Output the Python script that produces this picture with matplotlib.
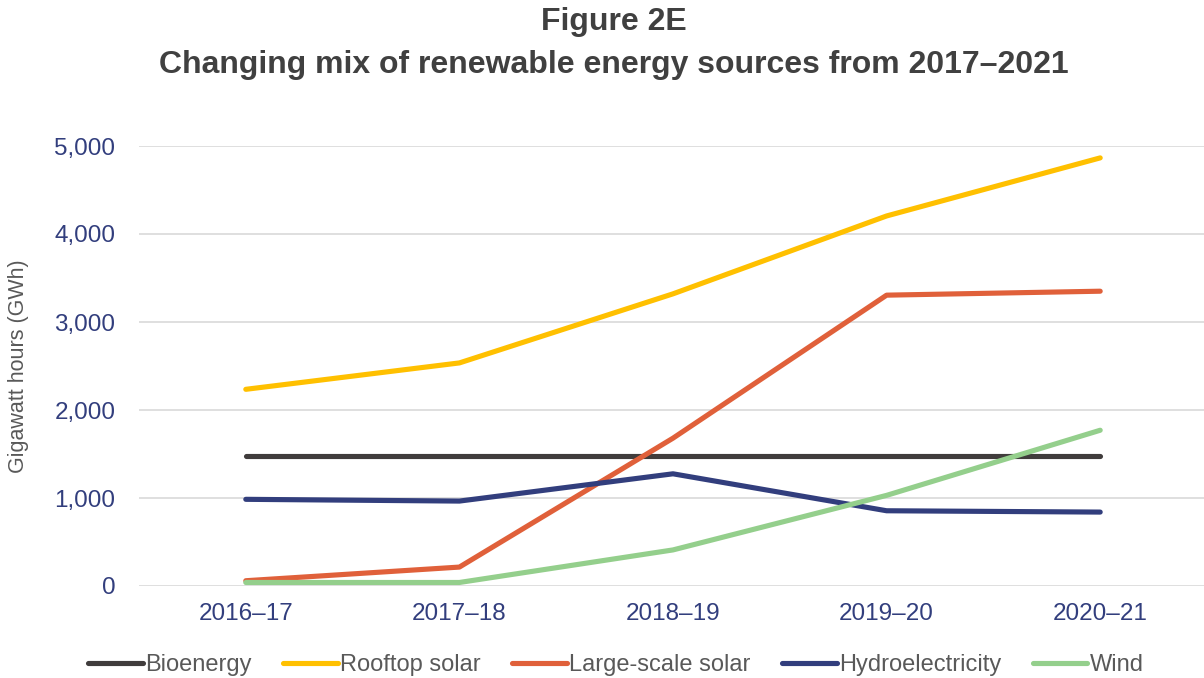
import matplotlib
matplotlib.use("Agg")
import matplotlib.pyplot as plt
from matplotlib.ticker import FuncFormatter

# data
years = ["2016–17", "2017–18", "2018–19", "2019–20", "2020–21"]
bioenergy = [1475, 1475, 1475, 1475, 1475]
rooftop_solar = [2235, 2535, 3320, 4205, 4865]
large_scale_solar = [60, 215, 1680, 3305, 3350]
hydro = [985, 965, 1275, 855, 840]
wind = [40, 40, 410, 1030, 1770]

series = [
    ("Bioenergy", bioenergy, "#403C3C"),
    ("Rooftop solar", rooftop_solar, "#FFC000"),
    ("Large-scale solar", large_scale_solar, "#E0603A"),
    ("Hydroelectricity", hydro, "#323E7D"),
    ("Wind", wind, "#94CF8C"),
]

plt.rcParams["font.family"] = ["Liberation Sans", "DejaVu Sans"]
navy = "#323E7D"

fig = plt.figure(figsize=(12.04, 6.78), dpi=100)
ax = fig.add_axes([139 / 1204, 92 / 678, 1068 / 1204, 440 / 678])

x = list(range(len(years)))
for name, vals, col in series:
    ax.plot(x, vals, color=col, lw=3.7, solid_capstyle="round",
            solid_joinstyle="round", label=name)

ax.set_xlim(-0.5, 4.5)
ax.set_ylim(0, 5000)
ax.set_yticks(range(0, 5001, 1000))
ax.yaxis.set_major_formatter(FuncFormatter(lambda v, p: f"{int(v):,}"))
ax.set_xticks(x)
ax.set_xticklabels(years)
ax.tick_params(axis="both", length=0, labelsize=17.5, labelcolor=navy)
ax.tick_params(axis="y", pad=17)
ax.tick_params(axis="x", pad=12)
ax.grid(axis="y", color="#D9D9D9", lw=1.2)
ax.set_axisbelow(True)
for s in ax.spines.values():
    s.set_visible(False)

ax.set_ylabel("Gigawatt hours (GWh)", fontsize=15.5, color="#595959")
ax.yaxis.set_label_coords(-0.103, 0.5)

fig.text(0.51, 1 - 22 / 678, "Figure 2E", ha="center", va="center",
         fontsize=23, fontweight="bold", color="#404040")
fig.text(0.51, 1 - 65 / 678, "Changing mix of renewable energy sources from 2017–2021",
         ha="center", va="center", fontsize=23, fontweight="bold", color="#404040")

leg = fig.legend(loc="center", bbox_to_anchor=(616 / 1204, 1 - 665 / 678), ncol=5,
                 frameon=False, handlelength=2.3, handletextpad=0.1,
                 columnspacing=1.35, prop={"size": 17})
for t in leg.get_texts():
    t.set_color("#595959")

fig.savefig("out.png", dpi=100)
